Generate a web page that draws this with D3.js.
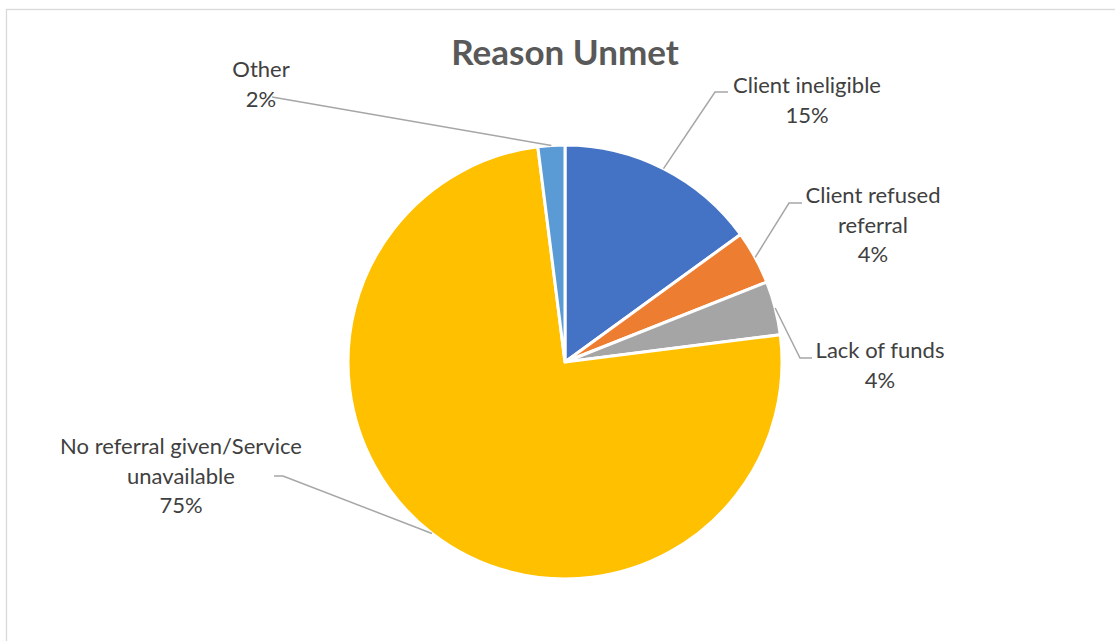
<!DOCTYPE html>
<html>
<head>
<meta charset="utf-8">
<script src="https://cdn.jsdelivr.net/npm/d3@7"></script>
<style>
  html, body { margin: 0; padding: 0; background: #fff; }
  svg { display: block; }
</style>
</head>
<body>
<svg id="chart" width="1115" height="641"></svg>
<script>
// Reasons a need went unmet, share of cases (%)
const categories = ["Client ineligible", "Client refused referral", "Lack of funds", "No referral given/Service unavailable", "Other"];
const values = [15, 4, 4, 75, 2];
const labelLines = [
  ["Client ineligible"],
  ["Client refused", "referral"],
  ["Lack of funds"],
  ["No referral given/Service", "unavailable"],
  ["Other"]
];
const colors = ["#4472C4", "#ED7D31", "#A5A5A5", "#FFC000", "#5B9BD5"];
const title = "Reason Unmet";

// Layout of the data labels: text anchor (centre of first baseline) and leader-line elbow
const labelLayout = [
  { x: 807, y: 93,  elbow: [715, 92],  end: [728, 92] },
  { x: 873, y: 203, elbow: [789, 203], end: [802, 203] },
  { x: 880, y: 358, elbow: [800, 358], end: [812, 358] },
  { x: 181, y: 454, elbow: [283, 476], end: [274, 476] },
  { x: 261, y: 77,  elbow: null,       end: [272, 97] }
];

const W = 1115, H = 641;
const cx = 565, cy = 362, R = 217;
const lineGap = 29.5;

const svg = d3.select("#chart");

// chart area frame
svg.append("rect")
  .attr("x", 6.5).attr("y", 9.5)
  .attr("width", W + 20).attr("height", H + 20)
  .attr("fill", "#fff")
  .attr("stroke", "#D9D9D9")
  .attr("stroke-width", 1.3);

svg.append("text")
  .attr("x", cx).attr("y", 65)
  .attr("text-anchor", "middle")
  .attr("font-family", "Lato, 'Open Sans', sans-serif")
  .attr("font-weight", "bold")
  .attr("font-size", 35)
  .attr("fill", "#595959")
  .text(title);

const data = categories.map((c, i) => ({ name: c, value: values[i], lines: labelLines[i], color: colors[i], layout: labelLayout[i] }));

const pie = d3.pie().value(d => d.value).sort(null);
const arcs = pie(data);
const arc = d3.arc().innerRadius(0).outerRadius(R);

const g = svg.append("g").attr("transform", `translate(${cx},${cy})`);

g.selectAll("path.slice")
  .data(arcs)
  .join("path")
  .attr("class", "slice")
  .attr("d", arc)
  .attr("fill", d => d.data.color)
  .attr("stroke", "#fff")
  .attr("stroke-width", 3)
  .attr("stroke-linejoin", "round");

// leader lines from the slice edge to the label
const edge = d3.arc().innerRadius(R).outerRadius(R);
const lines = svg.append("g")
  .attr("fill", "none")
  .attr("stroke", "#A6A6A6")
  .attr("stroke-width", 1.5);

arcs.forEach(a => {
  const [ex, ey] = edge.centroid(a);
  const L = a.data.layout;
  const pts = [[cx + ex, cy + ey]];
  if (L.elbow) pts.push(L.elbow);
  pts.push(L.end);
  lines.append("path").attr("d", d3.line()(pts));
});

// data labels: category name and percentage
const fmt = d3.format(".0%");
const total = d3.sum(values);
const labels = svg.append("g")
  .attr("font-family", "Lato, 'Open Sans', sans-serif")
  .attr("font-size", 22)
  .attr("fill", "#404040")
  .attr("text-anchor", "middle");

arcs.forEach(a => {
  const L = a.data.layout;
  const t = labels.append("text").attr("x", L.x).attr("y", L.y);
  const all = a.data.lines.concat([fmt(a.data.value / total)]);
  all.forEach((s, i) => {
    t.append("tspan").attr("x", L.x).attr("y", L.y + i * lineGap).text(s);
  });
});
</script>
</body>
</html>
